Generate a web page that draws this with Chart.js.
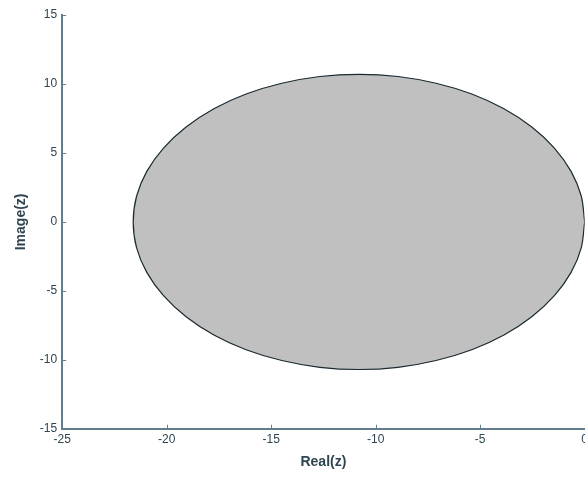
<!DOCTYPE html>
<html>
<head>
<meta charset="utf-8">
<script src="https://cdn.jsdelivr.net/npm/chart.js"></script>
<style>
  html, body { margin: 0; padding: 0; background: #fff; overflow: hidden; }
  #wrap { width: 592px; height: 477px; }
</style>
</head>
<body>
<div id="wrap"><canvas id="c"></canvas></div>
<script>
// Contorno de la región
const realZ = [0, -0.16, -0.65, -1.45, -2.53, -3.86, -5.40, -7.11, -8.93, -10.8,
  -12.67, -14.49, -16.20, -17.74, -19.07, -20.15, -20.95, -21.44, -21.6,
  -21.44, -20.95, -20.15, -19.07, -17.74, -16.20, -14.49, -12.67, -10.8,
  -8.93, -7.11, -5.40, -3.86, -2.53, -1.45, -0.65, -0.16, 0];
const imagZ = [0, 1.86, 3.66, 5.35, 6.88, 8.20, 9.27, 10.05, 10.54, 10.7,
  10.54, 10.05, 9.27, 8.20, 6.88, 5.35, 3.66, 1.86, 0,
  -1.86, -3.66, -5.35, -6.88, -8.20, -9.27, -10.05, -10.54, -10.7,
  -10.54, -10.05, -9.27, -8.20, -6.88, -5.35, -3.66, -1.86, 0];
const xTicks = [-25, -20, -15, -10, -5, 0];
const yTicks = [-15, -10, -5, 0, 5, 10, 15];

const axisColor = '#5f7d8c';
const textColor = '#2f4550';

// Marcas de eje hacia dentro
const innerTicks = {
  id: 'innerTicks',
  afterDraw(chart) {
    const ctx = chart.ctx;
    const x = chart.scales.x, y = chart.scales.y;
    ctx.save();
    ctx.strokeStyle = axisColor;
    ctx.lineWidth = 1;
    ctx.beginPath();
    xTicks.forEach(v => {
      const px = Math.round(x.getPixelForValue(v)) + 0.5;
      ctx.moveTo(px, y.bottom);
      ctx.lineTo(px, y.bottom - 4);
    });
    yTicks.forEach(v => {
      const py = Math.round(y.getPixelForValue(v)) + 0.5;
      ctx.moveTo(x.left, py);
      ctx.lineTo(x.left + 4, py);
    });
    ctx.stroke();
    ctx.restore();
  }
};

new Chart(document.getElementById('c'), {
  type: 'scatter',
  data: {
    datasets: [{
      data: realZ.map((r, i) => ({ x: r, y: imagZ[i] })),
      showLine: true,
      fill: 'shape',
      backgroundColor: '#c0c0c0',
      borderColor: '#1a2a30',
      borderWidth: 1.2,
      pointRadius: 0,
      tension: 0.3
    }]
  },
  options: {
    responsive: true,
    maintainAspectRatio: false,
    animation: false,
    layout: { padding: { top: 15, right: 0, left: 9, bottom: 2 } },
    plugins: { legend: { display: false }, tooltip: { enabled: false } },
    scales: {
      x: {
        type: 'linear',
        min: -25, max: 0,
        afterBuildTicks: s => { s.ticks = xTicks.map(v => ({ value: v })); },
        grid: { drawOnChartArea: false, drawTicks: false, color: axisColor },
        border: { color: axisColor, width: 2 },
        ticks: { color: textColor, padding: 4, font: { family: 'Liberation Sans', size: 12 } },
        title: { display: true, text: 'Real(z)', color: textColor, padding: { top: 3 },
          font: { family: 'Liberation Sans', size: 14, weight: 'bold' } }
      },
      y: {
        type: 'linear',
        min: -15, max: 15,
        afterBuildTicks: s => { s.ticks = yTicks.map(v => ({ value: v })); },
        grid: { drawOnChartArea: false, drawTicks: false, color: axisColor },
        border: { color: axisColor, width: 2 },
        ticks: { color: textColor, padding: 5, font: { family: 'Liberation Sans', size: 12 } },
        title: { display: true, text: 'Image(z)', color: textColor, padding: { bottom: 5 },
          font: { family: 'Liberation Sans', size: 14, weight: 'bold' } }
      }
    }
  },
  plugins: [innerTicks]
});
</script>
</body>
</html>
